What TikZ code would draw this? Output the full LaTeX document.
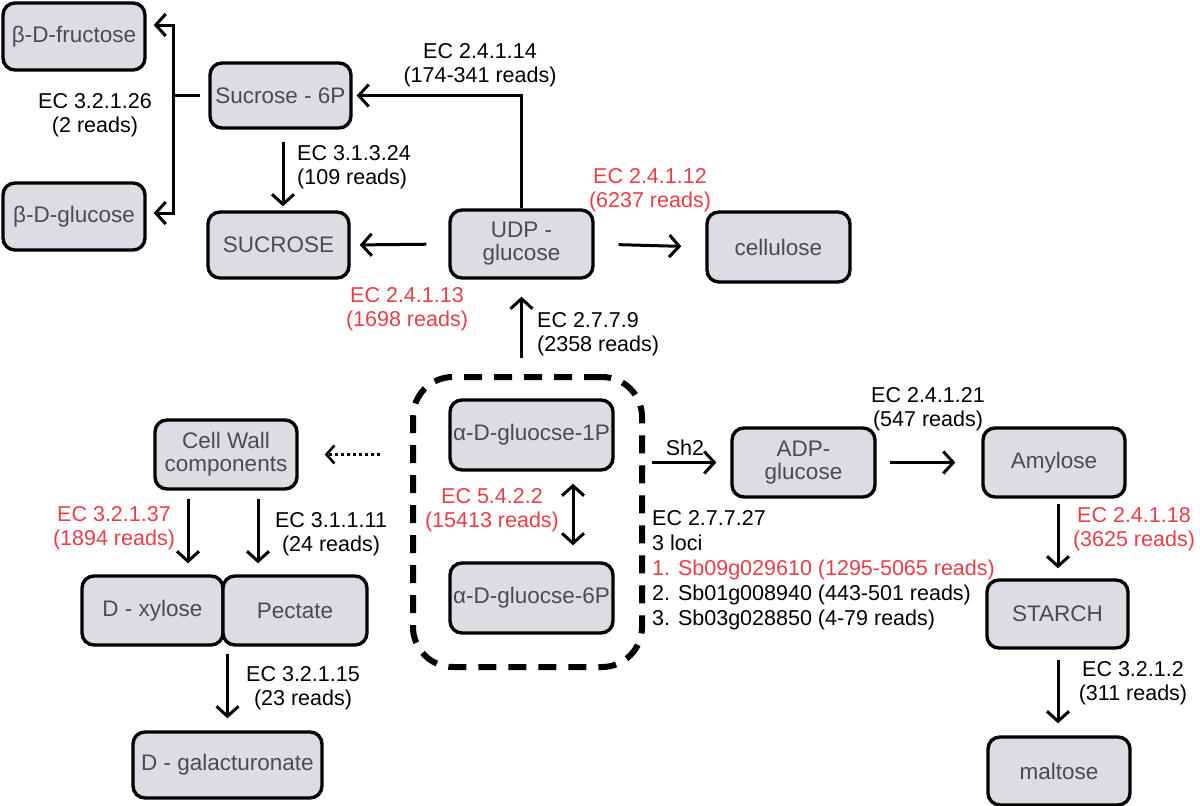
\documentclass[tikz,border=0pt]{standalone}
\usepackage{fontspec}
\setmainfont{Liberation Sans}
\usetikzlibrary{arrows.meta,calc}
\definecolor{boxfill}{RGB}{220,221,227}
\definecolor{boxtext}{RGB}{75,75,78}
\definecolor{ecred}{RGB}{232,62,72}
\begin{document}
\begin{tikzpicture}[x=1pt,y=-1pt,
  box/.style={draw=black, line width=3.4pt, rounded corners=12pt, fill=boxfill,
    text=boxtext, inner sep=1pt, align=center,
    font=\fontsize{22.5}{23}\selectfont},
  lbl/.style={inner sep=0pt, align=center, font=\fontsize{21.5}{24}\selectfont},
  redlbl/.style={lbl, text=ecred},
  arr/.style={line width=3pt, -{Straight Barb[length=10pt,width=22pt,line width=3pt]}},
  darr/.style={line width=3pt, {Straight Barb[length=10pt,width=22pt,line width=3pt]}-{Straight Barb[length=10pt,width=22pt,line width=3pt]}},
  plain/.style={line width=3pt}
]
\useasboundingbox (0,0) rectangle (1200,806);

% dashed group box
\node[draw, line width=6pt, dash pattern=on 18pt off 12pt, rounded corners=40pt,
  minimum width=229pt, minimum height=290pt, inner sep=0pt] (dbox) at (527.5,522) {};

% nodes
\node[box, minimum width=142pt, minimum height=67pt] (fru) at (74,36.5) {β-D-fructose};
\node[box, minimum width=142pt, minimum height=67pt] (glc) at (74,216.5) {β-D-glucose};
\node[box, minimum width=141pt, minimum height=65pt] (s6p) at (280.5,95.5) {Sucrose - 6P};
\node[box, minimum width=141pt, minimum height=66pt] (sucr) at (278.5,245) {SUCROSE};
\node[box, minimum width=143pt, minimum height=68pt] (udp) at (521.5,244) {UDP -\\glucose};
\node[box, minimum width=143pt, minimum height=70pt] (cel) at (778.5,247) {cellulose};
\node[box, minimum width=142pt, minimum height=69pt] (cw) at (226,454.5) {Cell Wall\\components};
\node[box, minimum width=141pt, minimum height=69pt] (xyl) at (152.5,610.5) {D - xylose};
\node[box, minimum width=144pt, minimum height=69pt] (pec) at (295,610.5) {Pectate};
\node[box, minimum width=189pt, minimum height=66pt] (gal) at (227.5,765) {D - galacturonate};
\node[box, minimum width=163pt, minimum height=70pt] (g1p) at (531.5,435) {α-D-gluocse-1P};
\node[box, minimum width=163pt, minimum height=70pt] (g6p) at (531.5,598) {α-D-gluocse-6P};
\node[box, minimum width=143pt, minimum height=69pt] (adp) at (803.5,462.5) {ADP-\\glucose};
\node[box, minimum width=142pt, minimum height=69pt] (amy) at (1054,462.5) {Amylose};
\node[box, minimum width=141pt, minimum height=68pt] (sta) at (1057.5,614) {STARCH};
\node[box, minimum width=142pt, minimum height=68pt] (mal) at (1059,771) {maltose};

% labels
\node[lbl] (l1) at (95,115) {EC 3.2.1.26\\(2 reads)};
\node[lbl, align=left, anchor=west] (l2) at (297,167) {EC 3.1.3.24\\(109 reads)};
\node[lbl] (l3) at (480,65.5) {EC 2.4.1.14\\(174-341 reads)};
\node[redlbl] (l4) at (650,190) {EC 2.4.1.12\\(6237 reads)};
\node[redlbl] (l5) at (407,309) {EC 2.4.1.13\\(1698 reads)};
\node[lbl, align=left, anchor=west] (l6) at (537,334) {EC 2.7.7.9\\(2358 reads)};
\node[redlbl] (l7) at (492,510) {EC 5.4.2.2\\(15413 reads)};
\node[lbl] (l8) at (685,448) {Sh2};
\node[lbl, align=left, anchor=west, font=\fontsize{21.5}{25}\selectfont] (l9) at (652,570)
  {EC 2.7.7.27\\3 loci\\\textcolor{ecred}{1. Sb09g029610 (1295-5065 reads)}\\2. Sb01g008940 (443-501 reads)\\3. Sb03g028850 (4-79 reads)};
\node[lbl] (l10) at (928,409) {EC 2.4.1.21\\(547 reads)};
\node[redlbl] (l11) at (1134,529) {EC 2.4.1.18\\(3625 reads)};
\node[lbl] (l12) at (1133,683) {EC 3.2.1.2\\(311 reads)};
\node[redlbl] (l13) at (114,528) {EC 3.2.1.37\\(1894 reads)};
\node[lbl] (l14) at (331,534) {EC 3.1.1.11\\(24 reads)};
\node[lbl] (l15) at (303,688) {EC 3.2.1.15\\(23 reads)};

% helper coordinates
\coordinate (jt) at (173,25);
\coordinate (jb) at (173,213);
\coordinate (s6pS) at ($(s6p.south)+(2.5,0)$);
\coordinate (cwA) at ($(cw.south)+(-38,0)$);
\coordinate (cwB) at ($(cw.south)+(32,0)$);
\coordinate (g1pS) at ($(g1p.south)+(41.5,0)$);
\coordinate (g6pN) at ($(g6p.north)+(41.5,0)$);
\coordinate (amyS) at ($(amy.south)+(4,0)$);
\coordinate (staS) at ($(sta.south)+(0.5,0)$);

% connectors
\draw[plain, shorten <=8pt] (s6p.west) -- (s6p.west -| jt);
\draw[darr, shorten <=7pt, shorten >=7pt] (jt -| fru.east) -- (jt) -- (jb) -- (jb -| glc.east);
\draw[arr, shorten <=12pt, shorten >=4pt] (s6pS) -- (s6pS |- sucr.north);
\draw[arr, shorten >=4pt] (udp.north) -- (udp.north |- s6p.east) -- (s6p.east);
\draw[arr, shorten <=22pt, shorten >=9pt] (udp.west) -- (sucr.east);
\draw[arr, shorten <=24pt, shorten >=24pt] (udp.east) -- (cel.west);
\draw[arr, shorten <=40pt, shorten >=17pt] (udp.south |- g1p.north) -- (udp.south);
\draw[line width=3pt, dash pattern=on 3pt off 3pt, -{Straight Barb[length=8pt,width=18pt,line width=2.6pt]},
  shorten <=30pt, shorten >=26pt] (cw.east -| dbox.west) -- (cw.east);
\draw[arr, shorten <=8pt, shorten >=11pt] (cwA) -- (cwA |- xyl.north);
\draw[arr, shorten <=8pt, shorten >=11pt] (cwB) -- (cwB |- pec.north);
\draw[arr, shorten <=7pt, shorten >=12pt] (gal.north |- xyl.south) -- (gal.north);
\draw[darr, shorten <=12pt, shorten >=16pt] (g1pS) -- (g6pN);
\draw[arr, shorten <=37pt, shorten >=14pt] (g1p.east |- adp.west) -- (adp.west);
\draw[arr, shorten <=13pt, shorten >=26pt] (adp.east) -- (amy.west);
\draw[arr, shorten <=5pt, shorten >=10pt] (amyS) -- (amyS |- sta.north);
\draw[arr, shorten <=10pt, shorten >=12pt] (staS) -- (staS |- mal.north);
\end{tikzpicture}
\end{document}
